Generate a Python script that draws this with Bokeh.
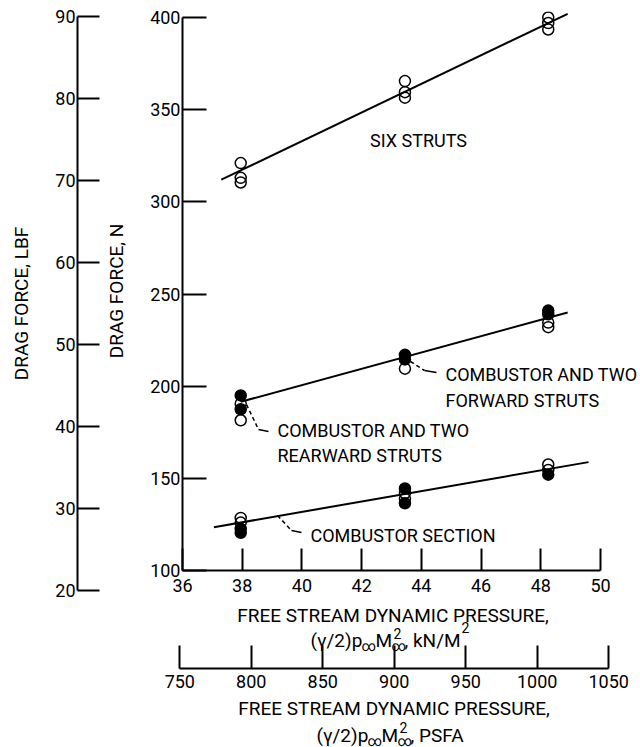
from bokeh.plotting import figure
from bokeh.models import Range1d, Label, FixedTicker
from bokeh.layouts import row, column
from bokeh.embed import file_html
from bokeh.resources import INLINE

# ---------------- data ----------------
# free-stream dynamic pressure, kN/m^2 ; drag force, N
six_q = [37.95, 37.95, 37.95, 43.45, 43.45, 43.45, 48.25, 48.25, 48.25]
six_F = [321.0, 313.0, 310.5, 365.5, 359.5, 356.5, 400.0, 397.0, 393.5]

fwd_q = [37.95, 37.95, 43.45, 43.45, 48.25, 48.25]          # combustor + two forward struts (filled)
fwd_F = [195.0, 187.5, 217.0, 214.5, 241.0, 239.0]

rear_q = [37.95, 37.95, 43.45, 48.25, 48.25]                # combustor + two rearward struts (open)
rear_F = [190.5, 181.5, 209.5, 234.5, 232.0]

comb_open_q = [37.95, 37.95, 43.45, 43.45, 48.25, 48.25]    # combustor section
comb_open_F = [128.5, 126.0, 142.0, 139.0, 157.5, 154.5]
comb_fill_q = [37.95, 37.95, 43.45, 43.45, 48.25]
comb_fill_F = [122.5, 120.5, 144.5, 136.5, 152.0]

# faired lines
six_fit_q = [37.3, 48.9]
six_fit_F = [312.0, 402.0]
two_fit_q = [37.95, 48.9]
two_fit_F = [191.5, 240.0]
comb_fit_q = [37.05, 49.6]
comb_fit_F = [123.5, 158.8]

# ticks
q_ticks = [36, 38, 40, 42, 44, 46, 48, 50]
n_ticks = [100, 150, 200, 250, 300, 350, 400]
lbf_ticks = [20, 30, 40, 50, 60, 70, 80, 90]
psf_ticks = [750, 800, 850, 900, 950, 1000, 1050]

N_PER_LBF = 4.44822
PSF_PER_KPA = 20.8854

FONT = "Roboto"
TICK_FS = "18px"
TITLE_FS = "19px"
LAB_FS = "18px"
SUB_FS = "14px"

# ---------------- geometry helpers (page pixels -> data) ----------------
FX0, FXR = 182, 640          # main frame left (q = 36) and right edge (page px)
PX_PER_Q = 418.0 / 14.0      # 36..50 spans 418 px
FY0, FY1 = 11, 570           # main frame top / bottom (page px), F = 100 at bottom
PX_PER_N = 553.0 / 300.0
CX0, CX1 = 178, 612          # frame of the psf-axis panel (page px)


def qx(px):
    return 36 + (px - FX0) / PX_PER_Q


def fy(py):
    return 100 + (FY1 - py) / PX_PER_N


def psf_x(px):
    return qx(px) * PSF_PER_KPA


def cy(py):          # pressure-axis panel: frame bottom at page y 668
    return 668 - py


def dy(py):          # title panel: bottom at page y 747
    return 747 - py


def style_axis(ax, tick_len, standoff):
    ax.axis_line_width = 2
    ax.axis_line_color = "black"
    ax.major_tick_in = tick_len
    ax.major_tick_out = 0
    ax.major_tick_line_width = 2
    ax.major_tick_line_color = "black"
    ax.minor_tick_line_color = None
    ax.major_label_text_font = FONT
    ax.major_label_text_font_size = TICK_FS
    ax.major_label_text_color = "black"
    ax.major_label_standoff = standoff
    ax.axis_label_text_font = FONT
    ax.axis_label_text_font_size = TITLE_FS
    ax.axis_label_text_font_style = "normal"
    ax.axis_label_text_color = "black"


def clean(p):
    p.grid.visible = False
    p.outline_line_color = None
    p.background_fill_color = "white"
    p.border_fill_color = "white"


def lab(p, x, y, text, align="left", size=LAB_FS, baseline="middle"):
    p.add_layout(Label(x=x, y=y, text=text, text_font=FONT, text_font_size=size,
                       text_align=align, text_baseline=baseline, text_color="black"))


# ---------------- LBF axis figure ----------------
y_top_N = 100 + (FY1 - FY0) / PX_PER_N
lbf_hi = 20 + 574 / (PX_PER_N * N_PER_LBF)

pa = figure(width=100, height=747, x_range=Range1d(0, 1), y_range=Range1d(20, lbf_hi),
            min_border_left=77, min_border_right=0, min_border_top=16, min_border_bottom=157,
            toolbar_location=None, output_backend="svg", x_axis_location=None)
clean(pa)
pa.yaxis.ticker = FixedTicker(ticks=lbf_ticks)
pa.yaxis.bounds = (20, 90)
pa.yaxis.axis_label = "DRAG FORCE, LBF"
style_axis(pa.yaxis[0], 22, 2)
pa.yaxis.axis_label_standoff = 19

# ---------------- main figure ----------------
pb = figure(width=540, height=600, x_range=Range1d(36, qx(FXR)), y_range=Range1d(100, y_top_N),
            min_border_left=82, min_border_right=0, min_border_top=FY0, min_border_bottom=30,
            toolbar_location=None, output_backend="svg")
clean(pb)
pb.xaxis.ticker = FixedTicker(ticks=q_ticks)
pb.xaxis.bounds = (36, 50)
style_axis(pb.xaxis[0], 22, 8)
pb.yaxis.ticker = FixedTicker(ticks=n_ticks)
pb.yaxis.bounds = (100, 400)
pb.yaxis.axis_label = "DRAG FORCE, N"
style_axis(pb.yaxis[0], 24, 2)
pb.yaxis.axis_label_standoff = 19

for xs, ys in [(six_fit_q, six_fit_F), (two_fit_q, two_fit_F), (comb_fit_q, comb_fit_F)]:
    pb.line(xs, ys, line_color="black", line_width=2)

MS = 11
pb.scatter(six_q, six_F, marker="circle", size=MS, fill_color=None, line_color="black", line_width=1.5)
pb.scatter(rear_q, rear_F, marker="circle", size=MS, fill_color=None, line_color="black", line_width=1.5)
pb.scatter(fwd_q, fwd_F, marker="circle", size=MS, fill_color="black", line_color="black", line_width=1.5)
pb.scatter(comb_open_q, comb_open_F, marker="circle", size=MS, fill_color=None, line_color="black", line_width=1.5)
pb.scatter(comb_fill_q, comb_fill_F, marker="circle", size=MS, fill_color="black", line_color="black", line_width=1.5)

# leader lines (page px -> data)
leaders = [
    ((410, 361), (424, 370), (436, 372)),
    ((246, 404), (258, 429), (268, 431)),
    ((277, 515), (291, 530), (301, 532)),
]
for a, b, c in leaders:
    pb.line([qx(a[0]), qx(b[0])], [fy(a[1]), fy(b[1])], line_color="black", line_width=1.5, line_dash="4 3")
    pb.line([qx(b[0]), qx(c[0])], [fy(b[1]), fy(c[1])], line_color="black", line_width=1.5)

lab(pb, qx(418), fy(140), "SIX STRUTS", align="center")
lab(pb, qx(445), fy(373.5), "COMBUSTOR AND TWO")
lab(pb, qx(445), fy(400), "FORWARD STRUTS")
lab(pb, qx(277), fy(429.5), "COMBUSTOR AND TWO")
lab(pb, qx(277), fy(454.5), "REARWARD STRUTS")
lab(pb, qx(310), fy(535), "COMBUSTOR SECTION")

# ---------------- PSFA axis figure (also holds kN/m^2 axis title) ----------------
pc = figure(width=540, height=97, x_range=Range1d(psf_x(CX0), psf_x(CX1)), y_range=Range1d(0, 68),
            min_border_left=CX0 - 100, min_border_right=640 - CX1, min_border_top=0, min_border_bottom=29,
            toolbar_location=None, output_backend="svg", y_axis_location=None)
clean(pc)
pc.xaxis.ticker = FixedTicker(ticks=psf_ticks)
pc.xaxis.bounds = (750, 1050)
style_axis(pc.xaxis[0], 23, 6)

lab(pc, psf_x(392.5), cy(614.5), "FREE STREAM DYNAMIC PRESSURE,", align="center", size=TITLE_FS)
lab(pc, psf_x(310), cy(640), "(\u03b3/2)p", baseline="alphabetic", size=TITLE_FS)
lab(pc, psf_x(361), cy(645), "\u221e", size=SUB_FS, baseline="alphabetic")
lab(pc, psf_x(375), cy(640), "M", baseline="alphabetic", size=TITLE_FS)
lab(pc, psf_x(393), cy(633), "2", size=SUB_FS, baseline="alphabetic")
lab(pc, psf_x(391), cy(645), "\u221e", size=SUB_FS, baseline="alphabetic")
lab(pc, psf_x(404), cy(640), ", kN/M", baseline="alphabetic", size=TITLE_FS)
lab(pc, psf_x(461), cy(627), "2", size=SUB_FS, baseline="alphabetic")

# ---------------- PSFA axis title panel ----------------
pd = figure(width=540, height=50, x_range=Range1d(psf_x(CX0), psf_x(CX1)), y_range=Range1d(0, 50),
            min_border_left=CX0 - 100, min_border_right=640 - CX1, min_border_top=0, min_border_bottom=0,
            toolbar_location=None, output_backend="svg", x_axis_location=None, y_axis_location=None)
clean(pd)
lab(pd, psf_x(393.5), dy(708), "FREE STREAM DYNAMIC PRESSURE,", align="center", size=TITLE_FS)
lab(pd, psf_x(316), dy(735), "(\u03b3/2)p", baseline="alphabetic", size=TITLE_FS)
lab(pd, psf_x(367), dy(740), "\u221e", size=SUB_FS, baseline="alphabetic")
lab(pd, psf_x(381), dy(735), "M", baseline="alphabetic", size=TITLE_FS)
lab(pd, psf_x(399), dy(727), "2", size=SUB_FS, baseline="alphabetic")
lab(pd, psf_x(397), dy(740), "\u221e", size=SUB_FS, baseline="alphabetic")
lab(pd, psf_x(410), dy(735), ", PSFA", baseline="alphabetic", size=TITLE_FS)

layout = row(pa, column(pb, row(pc), row(pd)))
open("out.html", "w").write(file_html(layout, INLINE))
